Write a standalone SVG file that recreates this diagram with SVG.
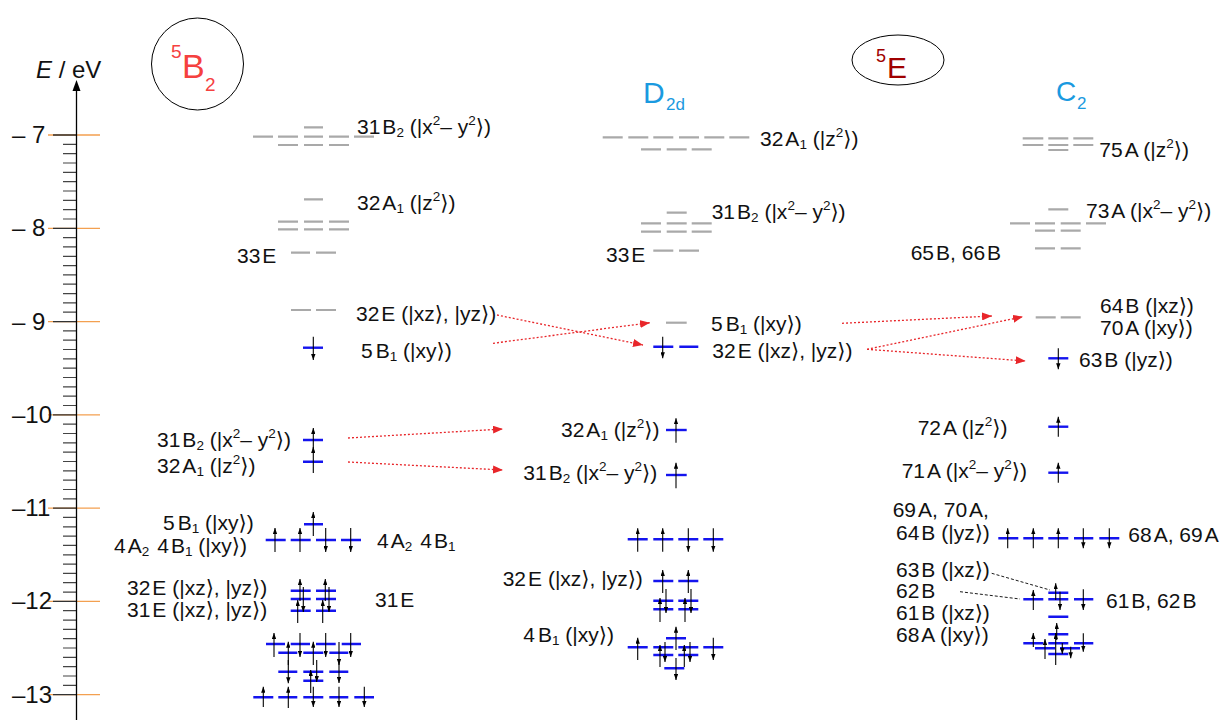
<svg xmlns="http://www.w3.org/2000/svg" width="1223" height="720" viewBox="0 0 1223 720">
<defs>
<marker id="ah" viewBox="0 0 6 4.4" refX="6" refY="2.2" markerWidth="6" markerHeight="4.4" markerUnits="userSpaceOnUse" orient="auto"><path d="M0,0L6,2.2L0,4.4z" fill="#000"/></marker>
<marker id="ra" viewBox="0 0 10 8" refX="10" refY="4" markerWidth="10" markerHeight="8" markerUnits="userSpaceOnUse" orient="auto"><path d="M0,0L10,4L0,8z" fill="#e8262a"/></marker>
<style>
.t{font-family:"Liberation Sans",Arial,"DejaVu Sans",sans-serif;font-size:21px;fill:#111}
.s{font-size:13.5px}
.g{stroke:#a9a9a9;stroke-width:2.2;fill:none}
.b{stroke:#1414ee;stroke-width:2.4;fill:none}
.e{stroke:#000;stroke-width:1.1;fill:none;marker-end:url(#ah)}
.r{stroke:#e8262a;stroke-width:1.3;stroke-dasharray:2 2;fill:none;marker-end:url(#ra)}
.k{stroke:#000;stroke-width:0.9;stroke-dasharray:3 2;fill:none}
.maj{stroke:#f3a050;stroke-width:1.3}
.tk{font-family:"Liberation Sans",Arial,sans-serif;font-size:24px;fill:#111}
</style>
</defs>
<rect width="1223" height="720" fill="#fff"/>

<g id="axis">
<path class="maj" d="M48 135H100M48 228.3H100M48 321.6H100M48 414.8H100M48 508.1H100M48 601.4H100M48 694.7H100"/>
<path stroke="#333" stroke-width="1.3" d="M53 135H76M53 228.3H76M53 321.6H76M53 414.8H76M53 508.1H76M53 601.4H76M53 694.7H76"/>
<path stroke="#444" stroke-width="1.2" d="M63 144.3h13M63 153.7h13M63 163h13M63 172.3h13M63 181.6h13M63 191h13M63 200.3h13M63 209.6h13M63 219h13M63 237.6h13M63 246.9h13M63 256.3h13M63 265.6h13M63 274.9h13M63 284.2h13M63 293.6h13M63 302.9h13M63 312.2h13M63 330.9h13M63 340.2h13M63 349.5h13M63 358.9h13M63 368.2h13M63 377.5h13M63 386.9h13M63 396.2h13M63 405.5h13M63 424.2h13M63 433.5h13M63 442.8h13M63 452.2h13M63 461.5h13M63 470.8h13M63 480.1h13M63 489.5h13M63 498.8h13M63 517.4h13M63 526.8h13M63 536.1h13M63 545.4h13M63 554.8h13M63 564.1h13M63 573.4h13M63 582.7h13M63 592.1h13M63 610.7h13M63 620.1h13M63 629.4h13M63 638.7h13M63 648h13M63 657.4h13M63 666.7h13M63 676h13M63 685.4h13"/>
<line x1="76.5" y1="88" x2="76.5" y2="720" stroke="#000" stroke-width="1.3"/>
<polygon points="76.5,80 72.5,91 80.5,91" fill="#000"/>
<text class="tk" x="36" y="78" font-size="30"><tspan font-style="italic">E</tspan> / eV</text>
<text class="tk" x="12" y="143">– 7</text>
<text class="tk" x="12" y="236.3">– 8</text>
<text class="tk" x="12" y="329.6">– 9</text>
<text class="tk" x="12" y="422.8">–10</text>
<text class="tk" x="12" y="516.1">–11</text>
<text class="tk" x="12" y="609.4">–12</text>
<text class="tk" x="12" y="702.7">–13</text>
</g>

<g id="state-5B2">
<circle cx="197.5" cy="64" r="46" fill="none" stroke="#000" stroke-width="1"/>
<text font-family="Liberation Sans,Arial,sans-serif" fill="#f5413f"><tspan x="171" y="58" font-size="19">5</tspan><tspan x="182" y="78" font-size="34">B</tspan><tspan x="205" y="91" font-size="19">2</tspan></text>
</g>
<g id="state-5E">
<ellipse cx="898" cy="60" rx="46" ry="25" fill="none" stroke="#000" stroke-width="1"/>
<text font-family="Liberation Sans,Arial,sans-serif" fill="#a00000"><tspan x="876" y="62" font-size="18">5</tspan><tspan x="887" y="78" font-size="30">E</tspan></text>
</g>
<g id="label-D2d">
<text font-family="Liberation Sans,Arial,sans-serif" fill="#1a9ae0"><tspan x="643" y="102.7" font-size="30">D</tspan><tspan x="666" y="110" font-size="17">2d</tspan></text>
</g>
<g id="label-C2">
<text font-family="Liberation Sans,Arial,sans-serif" fill="#1a9ae0"><tspan x="1056" y="100.5" font-size="28">C</tspan><tspan x="1077" y="109" font-size="17">2</tspan></text>
</g>

<!-- 5B2 column -->
<g id="b2-31B2-empty">
<path class="g" d="M304 127.3h19M253 136.7h20M278 136.7h20M304 136.7h19M329 136.7h20M354 136.7h20M278 145h20M304 145h19M329 145h20"/>
<text class="t" x="357" y="134">31<tspan dx="2">B</tspan><tspan class="s" dy="3">2</tspan><tspan dy="-3"> (|x</tspan><tspan class="s" dy="-9">2</tspan><tspan dy="9">– y</tspan><tspan class="s" dy="-9">2</tspan><tspan dy="9">⟩)</tspan></text>
</g>
<g id="b2-32A1-empty">
<path class="g" d="M304 199.3h19M278 221.7h20M304 221.7h19M329 221.7h20M278 229.3h20M304 229.3h19M329 229.3h20"/>
<text class="t" x="357" y="210">32<tspan dx="2">A</tspan><tspan class="s" dy="3">1</tspan><tspan dy="-3"> (|z</tspan><tspan class="s" dy="-9">2</tspan><tspan dy="9">⟩)</tspan></text>
</g>
<g id="b2-33E">
<path class="g" d="M291 252.7h19M316 252.7h20"/>
<text class="t" x="237" y="263">33<tspan dx="2">E</tspan></text>
</g>
<g id="b2-32E">
<path class="g" d="M291 310h20M316 310h20"/>
<text class="t" x="356" y="320.7">32<tspan dx="2">E (|xz⟩, |yz⟩)</tspan></text>
</g>
<g id="b2-5B1">
<path class="b" d="M303 347.7h20"/>
<path class="e" d="M313.3 336.7V360"/>
<text class="t" x="361" y="358">5<tspan dx="3">B</tspan><tspan class="s" dy="3">1</tspan><tspan dy="-3"> (|xy⟩)</tspan></text>
</g>
<g id="b2-31B2-32A1">
<path class="b" d="M303 440h20M303 461.7h20"/>
<path class="e" d="M313.3 452V428"/>
<path class="e" d="M313.3 473V447"/>
<text class="t" x="157" y="446.7">31<tspan dx="2">B</tspan><tspan class="s" dy="3">2</tspan><tspan dy="-3"> (|x</tspan><tspan class="s" dy="-9">2</tspan><tspan dy="9">– y</tspan><tspan class="s" dy="-9">2</tspan><tspan dy="9">⟩)</tspan></text>
<text class="t" x="157" y="473.3">32<tspan dx="2">A</tspan><tspan class="s" dy="3">1</tspan><tspan dy="-3"> (|z</tspan><tspan class="s" dy="-9">2</tspan><tspan dy="9">⟩)</tspan></text>
</g>
<g id="b2-4A2-4B1">
<path class="b" d="M304 524.3h19M265.7 540h20M290.7 540h20M316 540h20M341 540h20"/>
<path class="e" d="M313.3 536V512"/>
<path class="e" d="M275 552V528"/>
<path class="e" d="M300 552V528"/>
<path class="e" d="M325.7 528V552"/>
<path class="e" d="M350.7 528V552"/>
<text class="t" x="163" y="530">5<tspan dx="3">B</tspan><tspan class="s" dy="3">1</tspan><tspan dy="-3"> (|xy⟩)</tspan></text>
<text class="t" x="114" y="553">4<tspan dx="2">A</tspan><tspan class="s" dy="3">2</tspan><tspan dy="-3" dx="8">4</tspan><tspan dx="2">B</tspan><tspan class="s" dy="3">1</tspan><tspan dy="-3"> (|xy⟩)</tspan></text>
<text class="t" x="377" y="548">4<tspan dx="2">A</tspan><tspan class="s" dy="3">2</tspan><tspan dy="-3" dx="8">4</tspan><tspan dx="2">B</tspan><tspan class="s" dy="3">1</tspan></text>
</g>
<g id="b2-32E-31E">
<path class="b" d="M290.7 590.7h20M316 590.7h20M290.7 599h20M316 599h20M290.7 610.7h20M316 610.7h20"/>
<path class="e" d="M300 601V579"/>
<path class="e" d="M303.3 587V612"/>
<path class="e" d="M297.7 623V600"/>
<path class="e" d="M325.3 601V579"/>
<path class="e" d="M329 587V612"/>
<path class="e" d="M322.7 623V600"/>
<text class="t" x="127" y="594.5" font-size="19.5">32<tspan dx="2">E (|xz⟩, |yz⟩)</tspan></text>
<text class="t" x="127" y="616.5" font-size="19.5">31<tspan dx="2">E (|xz⟩, |yz⟩)</tspan></text>
<text class="t" x="375" y="607">31<tspan dx="2">E</tspan></text>
</g>
<g id="b2-core">
<path class="b" d="M266 644h19M290.7 644h19.3M316 644h19.7M341.7 644h19.3M278.3 652.7h19M303.3 652.7h20M329.3 652.7h19M278.3 671.7h19M303.3 671.7h20M329.3 671.7h19M303.3 680.7h20M253.3 697.3h20M278.3 697.3h19M303.3 697.3h20M329.3 697.3h19M354.3 697.3h19.7"/>
<path class="e" d="M274 657V633"/>
<path class="e" d="M288.3 665V641.7"/>
<path class="e" d="M288.3 660V683.3"/>
<path class="e" d="M300 633V657"/>
<path class="e" d="M313.3 665V641.7"/>
<path class="e" d="M316.7 660V682"/>
<path class="e" d="M310.7 693V670"/>
<path class="e" d="M313.3 686.7V707"/>
<path class="e" d="M325.7 633V657"/>
<path class="e" d="M339 642V665"/>
<path class="e" d="M339 660V683"/>
<path class="e" d="M350.7 633V657"/>
<path class="e" d="M263.3 707V686.7"/>
<path class="e" d="M288.3 708V686.7"/>
<path class="e" d="M339 686.7V707"/>
<path class="e" d="M364.3 686.7V707"/>
</g>

<!-- D2d column -->
<g id="d2d-32A1-empty">
<path class="g" d="M602.7 137.3h20M628.3 137.3h20M653.3 137.3h20M679 137.3h20M704.3 137.3h20M729.3 137.3h20M641 149.3h20M666.7 149.3h20M691.7 149.3h20"/>
<text class="t" x="760" y="146">32<tspan dx="2">A</tspan><tspan class="s" dy="3">1</tspan><tspan dy="-3"> (|z</tspan><tspan class="s" dy="-9">2</tspan><tspan dy="9">⟩)</tspan></text>
</g>
<g id="d2d-31B2-empty">
<path class="g" d="M666.7 212.7h20M641 223.3h20M666.7 223.3h20M691.7 223.3h20M641 231.7h20M666.7 231.7h20M691.7 231.7h20"/>
<text class="t" x="711.7" y="219.3">31<tspan dx="2">B</tspan><tspan class="s" dy="3">2</tspan><tspan dy="-3"> (|x</tspan><tspan class="s" dy="-9">2</tspan><tspan dy="9">– y</tspan><tspan class="s" dy="-9">2</tspan><tspan dy="9">⟩)</tspan></text>
</g>
<g id="d2d-33E">
<path class="g" d="M653.3 250.7h20M679 250.7h20"/>
<text class="t" x="606" y="261.7">33<tspan dx="2">E</tspan></text>
</g>
<g id="d2d-5B1">
<path class="g" d="M666 322.7h20.7"/>
<text class="t" x="711" y="330.7">5<tspan dx="3">B</tspan><tspan class="s" dy="3">1</tspan><tspan dy="-3"> (|xy⟩)</tspan></text>
</g>
<g id="d2d-32E">
<path class="b" d="M653.3 346.7h20M679.3 346.7h19"/>
<path class="e" d="M662.7 336.7V358.3"/>
<text class="t" x="712.3" y="358.3">32<tspan dx="2">E (|xz⟩, |yz⟩)</tspan></text>
</g>
<g id="d2d-32A1">
<path class="b" d="M666 430h20.7"/>
<path class="e" d="M676 442.7V418.3"/>
<text class="t" x="561" y="436.7">32<tspan dx="2">A</tspan><tspan class="s" dy="3">1</tspan><tspan dy="-3"> (|z</tspan><tspan class="s" dy="-9">2</tspan><tspan dy="9">⟩)</tspan></text>
</g>
<g id="d2d-31B2">
<path class="b" d="M666 475h20.7"/>
<path class="e" d="M676 488.3V462.7"/>
<text class="t" x="523.3" y="480">31<tspan dx="2">B</tspan><tspan class="s" dy="3">2</tspan><tspan dy="-3"> (|x</tspan><tspan class="s" dy="-9">2</tspan><tspan dy="9">– y</tspan><tspan class="s" dy="-9">2</tspan><tspan dy="9">⟩)</tspan></text>
</g>
<g id="d2d-four">
<path class="b" d="M627.7 539.3h20M653.3 539.3h20M678.3 539.3h20M703.3 539.3h20"/>
<path class="e" d="M637.7 551.7V528.3"/>
<path class="e" d="M662.7 551.7V528.3"/>
<path class="e" d="M688.3 528.3V551.7"/>
<path class="e" d="M713.3 528.3V551.7"/>
</g>
<g id="d2d-32E-low">
<path class="b" d="M653.3 581h20M678.3 581h20M653.3 600.7h20M678.3 600.7h20M653.3 609.3h20M678.3 609.3h20"/>
<path class="e" d="M662.7 593V570"/>
<path class="e" d="M666 589V613"/>
<path class="e" d="M660 622V598"/>
<path class="e" d="M688.3 593V570"/>
<path class="e" d="M691 589V613"/>
<path class="e" d="M685 622V598"/>
<text class="t" x="502.7" y="586">32<tspan dx="2">E (|xz⟩, |yz⟩)</tspan></text>
</g>
<g id="d2d-4B1">
<path class="b" d="M666 638.3h20M627.7 647.3h20M653.3 647.3h20M678.3 647.3h20M703.3 647.3h20M653.3 655h20M678.3 655h20M664.3 668.3h20"/>
<path class="e" d="M637.7 660V637.7"/>
<path class="e" d="M713.3 637.7V660"/>
<path class="e" d="M676 650V626.7"/>
<path class="e" d="M676 658V680"/>
<path class="e" d="M660 667V645"/>
<path class="e" d="M665 642V662"/>
<path class="e" d="M684.3 667V645"/>
<path class="e" d="M690 642V662"/>
<text class="t" x="523.3" y="641.7">4<tspan dx="3">B</tspan><tspan class="s" dy="3">1</tspan><tspan dy="-3"> (|xy⟩)</tspan></text>
</g>

<!-- C2 column -->
<g id="c2-75A-empty">
<path class="g" d="M1022.7 138.3h20.6M1048.3 138.3h20M1073.3 138.3h20M1022.7 145h20.6M1048.3 145h20M1073.3 145h20M1048.3 150h20"/>
<text class="t" x="1099.3" y="157.3">75<tspan dx="2">A (|z</tspan><tspan class="s" dy="-9">2</tspan><tspan dy="9">⟩)</tspan></text>
</g>
<g id="c2-73A-empty">
<path class="g" d="M1048.3 209.3h20M1010 223.3h20M1035 223.3h20M1060.7 223.3h20M1086 223.3h20M1035 230.7h20M1060.7 230.7h20M1035 248.3h20M1060.7 248.3h20"/>
<text class="t" x="1086" y="218.3">73<tspan dx="2">A (|x</tspan><tspan class="s" dy="-9">2</tspan><tspan dy="9">– y</tspan><tspan class="s" dy="-9">2</tspan><tspan dy="9">⟩)</tspan></text>
<text class="t" x="910.7" y="260">65<tspan dx="2">B, 66</tspan><tspan dx="2">B</tspan></text>
</g>
<g id="c2-64B-70A">
<path class="g" d="M1035.7 317.3h20M1060.7 317.3h20"/>
<text class="t" x="1100" y="313.3">64<tspan dx="2">B (|xz⟩)</tspan></text>
<text class="t" x="1100" y="335">70<tspan dx="2">A (|xy⟩)</tspan></text>
</g>
<g id="c2-63B">
<path class="b" d="M1048.3 358.3h20"/>
<path class="e" d="M1058.3 348.3V369.3"/>
<text class="t" x="1079" y="367.3">63<tspan dx="2">B (|yz⟩)</tspan></text>
</g>
<g id="c2-72A">
<path class="b" d="M1048.3 426.7h20"/>
<path class="e" d="M1058.3 436.7V416.7"/>
<text class="t" x="917.7" y="435">72<tspan dx="2">A (|z</tspan><tspan class="s" dy="-9">2</tspan><tspan dy="9">⟩)</tspan></text>
</g>
<g id="c2-71A">
<path class="b" d="M1048.3 472.7h20"/>
<path class="e" d="M1058.3 482.7V462.7"/>
<text class="t" x="901.7" y="478.3">71<tspan dx="2">A (|x</tspan><tspan class="s" dy="-9">2</tspan><tspan dy="9">– y</tspan><tspan class="s" dy="-9">2</tspan><tspan dy="9">⟩)</tspan></text>
</g>
<g id="c2-68A-69A">
<path class="b" d="M998.3 538.3h20M1023.3 538.3h20M1048.3 538.3h20M1074 538.3h19.3M1099.3 538.3h20"/>
<path class="e" d="M1007.7 548.3V528.3"/>
<path class="e" d="M1033.3 548.3V528.3"/>
<path class="e" d="M1058.3 548.3V528.3"/>
<path class="e" d="M1083.3 528.3V548.3"/>
<path class="e" d="M1109.3 528.3V548.3"/>
<text class="t" x="892.7" y="516.7">69<tspan dx="2">A, 70</tspan><tspan dx="2">A,</tspan></text>
<text class="t" x="896" y="540">64<tspan dx="2">B (|yz⟩)</tspan></text>
<text class="t" x="1128.3" y="541.7">68<tspan dx="2">A, 69</tspan><tspan dx="2">A</tspan></text>
</g>
<g id="c2-61B-62B">
<path class="b" d="M1048.3 592.7h20M1023.3 599.3h20M1048.3 599.3h20M1074 599.3h19.3"/>
<path class="e" d="M1033.3 610V590"/>
<path class="e" d="M1083.3 589.3V610"/>
<path class="e" d="M1055.7 600V583.3"/>
<path class="e" d="M1060 591.7V610"/>
<text class="t" x="1106" y="608.3">61<tspan dx="2">B, 62</tspan><tspan dx="2">B</tspan></text>
<text class="t" x="896" y="576.7">63<tspan dx="2">B (|xz⟩)</tspan></text>
<text class="t" x="896" y="597.5">62<tspan dx="2">B</tspan></text>
<text class="t" x="896" y="620">61<tspan dx="2">B (|xz⟩)</tspan></text>
<text class="t" x="896" y="641.7">68<tspan dx="2">A (|xy⟩)</tspan></text>
</g>
<g id="c2-core">
<path class="b" d="M1048.3 616.7h20M1048.3 634.3h20M1023.3 643.3h20M1048.3 643.3h20M1074 643.3h19.3M1035 648.3h20M1060 648.3h20M1048.3 654h20"/>
<path class="e" d="M1056.7 640V623"/>
<path class="e" d="M1033.3 647V633"/>
<path class="e" d="M1045 659V639"/>
<path class="e" d="M1055.7 665V633"/>
<path class="e" d="M1062.3 643V654"/>
<path class="e" d="M1070.7 646.7V658.3"/>
<path class="e" d="M1083.3 633.3V651.7"/>
</g>

<g id="connectors">
<path class="r" d="M348 438L503 429"/>
<path class="r" d="M348 462L503 470"/>
<path class="r" d="M497 315L643 345"/>
<path class="r" d="M493 343.3L650 322.7"/>
<path class="r" d="M842 323.3L992 316"/>
<path class="r" d="M867 349.3L1023 316.7"/>
<path class="r" d="M867 349.3L1025.7 361"/>
<path class="k" d="M991.7 573.3L1050 590"/>
<path class="k" d="M960 591.7L1020 599"/>
</g>
</svg>
